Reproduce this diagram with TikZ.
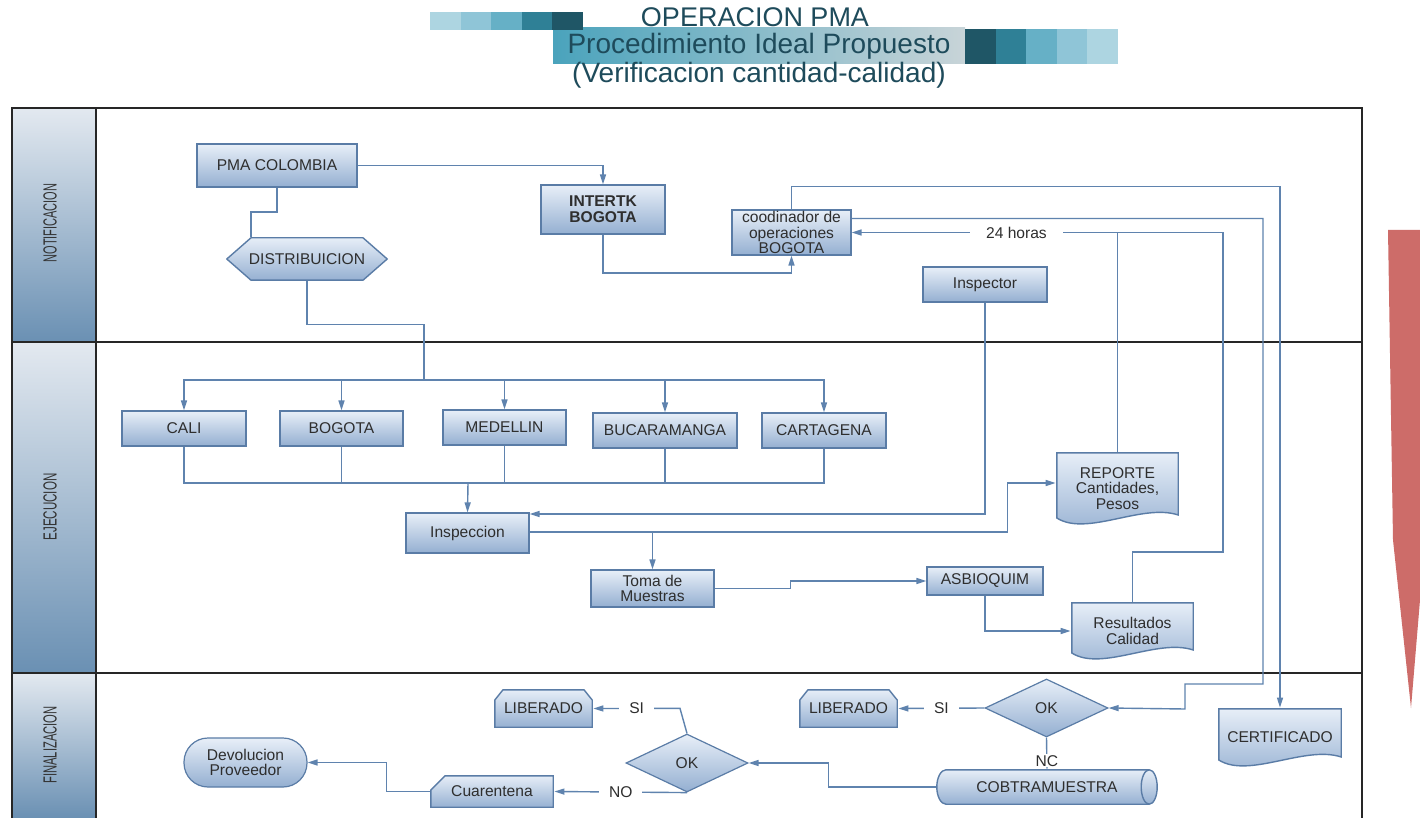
\documentclass[tikz,border=0pt]{standalone}
\usepackage{fontspec}
\setmainfont{Liberation Sans}
\usetikzlibrary{arrows.meta,shapes.geometric,calc}

\definecolor{ftop}{HTML}{E8EFF8}
\definecolor{fbot}{HTML}{94AFD1}
\definecolor{edge}{HTML}{5A7CA6}
\definecolor{flow}{HTML}{5F83AE}
\definecolor{txt}{HTML}{2E2E2E}
\definecolor{lanetop}{HTML}{E3E9F0}
\definecolor{lanebot}{HTML}{6A90B3}
\definecolor{ttl}{HTML}{1E4B5B}
\definecolor{redarrow}{HTML}{CD6C69}
\definecolor{sqa}{HTML}{ADD5E1}
\definecolor{sqb}{HTML}{8FC5D7}
\definecolor{sqc}{HTML}{66B0C6}
\definecolor{sqd}{HTML}{2F8096}
\definecolor{sqe}{HTML}{1F5666}
\definecolor{bandl}{HTML}{4AA3BC}
\definecolor{bandr}{HTML}{C8D4D8}

\newcommand\nodefont{\fontsize{7.8}{7.8}\selectfont}
\newcommand\ppb{path picture bounding box}

\tikzset{
  wh/.style 2 args={minimum width=#1*0.5pt, minimum height=#2*0.5pt},
  shaped/.style={font=\nodefont, text=txt, align=center, inner sep=1pt},
  box/.style={shaped, draw=edge, line width=.6pt, top color=ftop, bottom color=fbot},
  terminal/.style={box, rounded corners=12pt},
  decision/.style={box, diamond, aspect=2.1, inner sep=0pt},
  hexa/.style={shaped, path picture={
    \shade[top color=ftop, bottom color=fbot, draw=edge, line width=.7pt]
      ([xshift=.4pt]\ppb.west) -- ([shift={(12.5pt,-.4pt)}]\ppb.north west)
      -- ([shift={(-12.5pt,-.4pt)}]\ppb.north east) -- ([xshift=-.4pt]\ppb.east)
      -- ([shift={(-12.5pt,.4pt)}]\ppb.south east)
      -- ([shift={(12.5pt,.4pt)}]\ppb.south west) -- cycle;}},
  card/.style={shaped, path picture={
    \shade[top color=ftop, bottom color=fbot, draw=edge, line width=.7pt]
      ([shift={(.4pt,.4pt)}]\ppb.south west) -- ([shift={(.4pt,-5.5pt)}]\ppb.north west)
      -- ([shift={(4.5pt,-.4pt)}]\ppb.north west) -- ([shift={(-4.5pt,-.4pt)}]\ppb.north east)
      -- ([shift={(-.4pt,-5.5pt)}]\ppb.north east)
      -- ([shift={(-.4pt,.4pt)}]\ppb.south east) -- cycle;}},
  cardleft/.style={shaped, path picture={
    \shade[top color=ftop, bottom color=fbot, draw=edge, line width=.7pt]
      ([shift={(.4pt,.4pt)}]\ppb.south west) -- ([shift={(.4pt,-7.5pt)}]\ppb.north west)
      -- ([shift={(7.5pt,-.4pt)}]\ppb.north west) -- ([shift={(-.4pt,-.4pt)}]\ppb.north east)
      -- ([shift={(-.4pt,.4pt)}]\ppb.south east) -- cycle;}},
  drum/.style={shaped, path picture={
    \shade[top color=ftop, bottom color=fbot, draw=edge, line width=.7pt]
      ([shift={(5pt,-.4pt)}]\ppb.north west) -- ([shift={(-4.4pt,-.4pt)}]\ppb.north east)
      arc[start angle=90, end angle=-90, x radius=4pt, y radius=8.6pt]
      -- ([shift={(5pt,.4pt)}]\ppb.south west)
      arc[start angle=270, end angle=90, x radius=4.6pt, y radius=8.6pt] -- cycle;
    \draw[edge, line width=.7pt] ([shift={(-4.4pt,-.4pt)}]\ppb.north east)
      arc[start angle=90, end angle=270, x radius=4pt, y radius=8.6pt];}},
  docu/.style={shaped, path picture={
    \shade[top color=ftop, bottom color=fbot, draw=edge, line width=.7pt]
      ([shift={(.4pt,-.4pt)}]\ppb.north west) -- ([shift={(-.4pt,-.4pt)}]\ppb.north east)
      -- ([shift={(-.4pt,5pt)}]\ppb.south east)
      .. controls ($(\ppb.south east)!.3!(\ppb.south west)+(0,11pt)$)
      and ($(\ppb.south east)!.75!(\ppb.south west)+(0,-6pt)$)
      .. ([shift={(.4pt,3.5pt)}]\ppb.south west) -- cycle;}},
  link/.style={draw=flow, line width=.7pt},
  arr/.style={link, -{Triangle[length=5pt, width=3pt]}},
  lbl/.style={fill=white, font=\nodefont, text=txt, inner xsep=5pt, inner ysep=1pt},
  lane/.style={rotate=90, font=\fontsize{9.5}{10}\selectfont, text=black!80},
  title/.style={font=\fontsize{14}{14}\selectfont, text=ttl, inner sep=0pt}
}

\begin{document}
\begin{tikzpicture}[x=0.5pt, y=-0.5pt]
  \useasboundingbox (0,0) rectangle (1420,818);
  \fill[white] (0,0) rectangle (1420,818);

  \shade[left color=bandl, right color=bandr] (553,28) rectangle (965,64);
  \foreach \c [count=\i from 0] in {sqa,sqb,sqc,sqd,sqe}
    \fill[\c] (430+30.6*\i,12) rectangle ++(30.6,18);
  \foreach \c [count=\i from 0] in {sqe,sqd,sqc,sqb,sqa}
    \fill[\c] (965+30.6*\i,29) rectangle ++(30.6,35);
  \node[title, font=\fontsize{13.5}{14}\selectfont] (t1) at (755,17) {OPERACION PMA};
  \node[title] (t2) at (759,46) {Procedimiento Ideal Propuesto};
  \node[title] (t3) at (759,75) {(Verificacion cantidad-calidad)};

  \foreach \ya/\yb in {108/342, 342/673, 673/818}
    \shade[top color=lanetop, bottom color=lanebot] (12,\ya) rectangle (96,\yb);
  \draw[line width=1pt, black!85] (12,818) -- (12,108) -- (1362,108) -- (1362,818);
  \draw[line width=1pt, black!85] (96,108) -- (96,818);
  \draw[line width=1.3pt, black!85] (12,342) -- (1362,342);
  \draw[line width=.8pt, black!85] (12,673) -- (1362,673);
  \node[lane] (lnot) at (50,223) {\scalebox{.58}[1]{NOTIFICACION}};
  \node[lane] (leje) at (50,507) {\scalebox{.61}[1]{EJECUCION}};
  \node[lane] (lfin) at (50,745) {\scalebox{.59}[1]{FINALIZACION}};

  \fill[redarrow] (1388,230) -- (1425,230) -- (1425,540) -- (1411,708) -- (1393,540) -- cycle;

  \node[box, wh={160}{43}] (pma) at (277,165.5) {PMA COLOMBIA};
  \node[hexa, wh={162}{44}] (distrib) at (307,259) {DISTRIBUICION};
  \node[box, wh={124}{49}, font=\nodefont\bfseries] (intertk) at (603,209.5) {INTERTK\\BOGOTA};
  \node[box, wh={119}{45}, inner sep=0pt] (coord) at (791.5,232.5) {coodinador de\\operaciones\\BOGOTA};
  \node[box, wh={124}{35}] (inspector) at (985,284.5) {Inspector};
  \node[box, wh={124}{35}] (cali) at (184,428.5) {CALI};
  \node[box, wh={123}{35}] (bogota) at (341.5,428.5) {BOGOTA};
  \node[box, wh={123}{35}] (medellin) at (504.5,427.5) {MEDELLIN};
  \node[box, wh={144}{35}] (bucaramanga) at (665,430.5) {BUCARAMANGA};
  \node[box, wh={124}{35}] (cartagena) at (824,430.5) {CARTAGENA};
  \node[box, wh={123}{40}] (inspeccion) at (467.5,533) {Inspeccion};
  \node[box, wh={123}{37}] (toma) at (652.5,588.5) {Toma de\\Muestras};
  \node[box, wh={116}{28}] (asbioquim) at (985,581) {ASBIOQUIM};
  \node[docu, wh={123}{73}] (reporte) at (1117.5,488.5) {REPORTE\\Cantidades,\\Pesos};
  \node[docu, wh={123}{58}] (resultados) at (1132.5,631) {Resultados\\Calidad};
  \node[docu, wh={124}{59}] (certificado) at (1280,737.5) {CERTIFICADO};
  \node[decision, wh={123}{58}] (ok2) at (1046.5,708) {OK};
  \node[card, wh={99}{39}] (lib2) at (848.5,708.5) {LIBERADO};
  \node[drum, wh={222}{36}] (cobtra) at (1047,787) {COBTRAMUESTRA};
  \node[decision, wh={122}{58}] (ok1) at (687,763) {OK};
  \node[card, wh={99}{39}] (lib1) at (543.5,708.5) {LIBERADO};
  \node[cardleft, wh={124}{33}] (cuarentena) at (492,791.5) {Cuarentena};
  \node[terminal, wh={123}{49}] (devol) at (245.5,762.5) {Devolucion\\Proveedor};

  \coordinate (split) at (424,380);
  \coordinate (merge) at (468,483);

  \draw[arr] (pma.east) -| (intertk.north);
  \draw[link] (pma.south) -- ++(0,24.5) -| ([xshift=-28pt]distrib.north);
  \draw[link] (distrib.south) -- ++(0,43) -| (split);
  \foreach \c in {cali,bogota,medellin,bucaramanga,cartagena}{
    \draw[arr] (split) -| (\c.north);
    \draw[link] (\c.south) |- (merge);
  }
  \draw[arr] (merge) -- (inspeccion.north);
  \draw[arr] (intertk.south) -- ++(0,38.5) -| (coord.south);
  \draw[arr] (coord.north) -- ++(0,-23) -| (certificado.north);
  \draw[arr] ([yshift=7pt]coord.east) -| (1263,684) -| (1185,709) -- (ok2.east);
  \draw[arr] (reporte.north) |- node[lbl, inner xsep=8pt, pos=.69] {24 horas} (coord.east);
  \draw[link] (resultados.north) |- (1223,552) |- (reporte.north |- coord.east);
  \draw[arr] (inspector.south) |- ([yshift=9.5pt]inspeccion.east);
  \draw[arr] ([yshift=.5pt]inspeccion.east) -| (toma.north);
  \draw[arr] ([yshift=.5pt]inspeccion.east) -- ++(478,0) |- ([yshift=2.75pt]reporte.west);
  \draw[arr] (toma.east) -- ++(76,0) |- (asbioquim.west);
  \draw[arr] (asbioquim.south) |- (resultados.west);
  \draw[arr] (ok2.west) -- node[lbl] {SI} (lib2.east);
  \draw[link] (ok2.south) -- node[lbl, inner ysep=.5pt, pos=.75] {NC} (cobtra.north);
  \draw[arr] (cobtra.west) -- ++(-107,0) |- (ok1.east);
  \draw[arr] (ok1.north) -- ++(-7,-25) -- node[lbl] {SI} (lib1.east);
  \draw[arr] (ok1.south) -- node[lbl] {NO} (cuarentena.east);
  \draw[arr] (cuarentena.west) -- ++(-43,0) |- (devol.east);
\end{tikzpicture}
\end{document}
